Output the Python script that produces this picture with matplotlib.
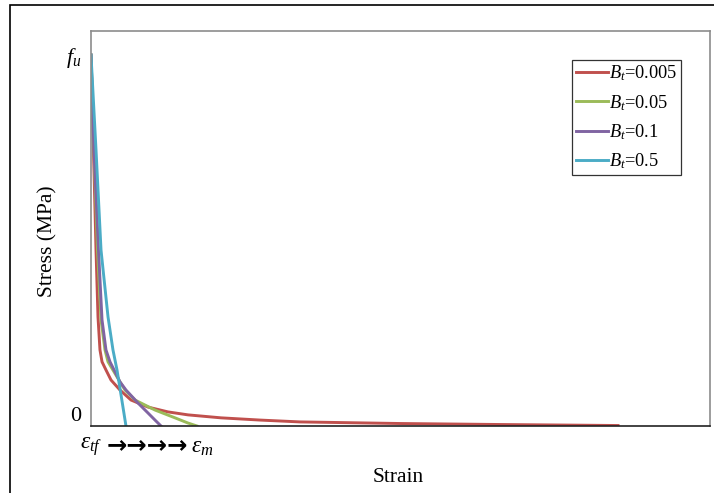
import matplotlib.pyplot as plt
from matplotlib.patches import Rectangle

plt.rcParams['font.family'] = ['Liberation Serif', 'DejaVu Serif']
plt.rcParams['mathtext.fontset'] = 'custom'
plt.rcParams['mathtext.rm'] = 'Liberation Serif'
plt.rcParams['mathtext.it'] = 'Liberation Serif:italic'

# Krzywe naprezenie-odksztalcenie (znormalizowane: strain do 1, stress / f_u)
labels = ['$B_t$=0.005', '$B_t$=0.05', '$B_t$=0.1', '$B_t$=0.5']
colors = ['#C0504D', '#9BBB59', '#8064A2', '#4BACC6']

x_red = [0, 0.0040, 0.0081, 0.0113, 0.0145, 0.0178, 0.0242, 0.0323, 0.0468, 0.0646,
         0.0921, 0.1244, 0.1567, 0.2100, 0.2730, 0.3376, 0.4992, 0.6607, 0.8514]
y_red = [1.0, 0.744, 0.474, 0.294, 0.205, 0.173, 0.151, 0.124, 0.097, 0.070,
         0.051, 0.038, 0.030, 0.022, 0.016, 0.011, 0.0067, 0.004, 0.0013]

x_green = [0, 0.0048, 0.0105, 0.0162, 0.0226, 0.0275, 0.0372, 0.0468, 0.0549, 0.0711,
           0.1034, 0.1357, 0.1567, 0.1712]
y_green = [1.0, 0.744, 0.474, 0.286, 0.205, 0.173, 0.146, 0.119, 0.097, 0.070,
           0.043, 0.022, 0.008, 0.0]

x_purple = [0, 0.0048, 0.0121, 0.0178, 0.0242, 0.0307, 0.0388, 0.0468, 0.0565, 0.0759,
            0.0921, 0.1034, 0.1131]
y_purple = [1.0, 0.744, 0.474, 0.286, 0.205, 0.173, 0.146, 0.119, 0.097, 0.062,
            0.035, 0.016, 0.0]

x_cyan = [0, 0.0081, 0.0162, 0.0275, 0.0355, 0.0420, 0.0485, 0.0565]
y_cyan = [1.0, 0.744, 0.474, 0.294, 0.205, 0.151, 0.084, 0.0]

series = [(x_red, y_red), (x_green, y_green), (x_purple, y_purple), (x_cyan, y_cyan)]

fig = plt.figure(figsize=(7.14, 4.93), dpi=100)
ax = fig.add_axes([91 / 714, 67 / 493, 619 / 714, 395 / 493])

for (xs, ys), lab, c in zip(series, labels, colors):
    ax.plot(xs, ys, color=c, lw=2.1, label=lab, solid_joinstyle='round')

ax.set_xlim(0, 1)
ax.set_ylim(0, 395 / 371)

ax.set_xticks([])
ax.set_yticks([0, 1])
ax.set_yticklabels(['0', '$f_u$'], fontsize=16)
ax.tick_params(axis='y', length=0, pad=7)
ax.get_yticklabels()[0].set_verticalalignment('bottom')

for s in ['left', 'top', 'right']:
    ax.spines[s].set_color('#8c8c8c')
    ax.spines[s].set_linewidth(1.2)
ax.spines['bottom'].set_color('#222222')
ax.spines['bottom'].set_linewidth(1.2)

ax.text(-(91 - 48) / 619, 0.5 + (426 - 241 - 197.5) / 395, 'Stress (MPa)', transform=ax.transAxes,
        fontsize=15.5, rotation=90, ha='center', va='center')
ax.text((398 - 91) / 619, -(478 - 426) / 395, 'Strain', transform=ax.transAxes,
        fontsize=15.5, ha='center', va='center')

ax.text(-11 / 619, -21 / 395, r'$\varepsilon_{tf}$', transform=ax.transAxes,
        fontsize=17, va='center', ha='left')
ax.text(16 / 619, -19 / 395, '\u2192\u2192\u2192\u2192', transform=ax.transAxes,
        fontsize=17.5, va='center', ha='left', fontweight='bold', family='DejaVu Sans')
ax.text(100 / 619, -21 / 395, r'$\varepsilon_m$', transform=ax.transAxes,
        fontsize=17, va='center', ha='left')

leg = ax.legend(loc='upper right', bbox_to_anchor=(0.953, 0.9266), fontsize=13.2,
                frameon=True, fancybox=False, handlelength=1.75, labelspacing=0.52,
                handletextpad=0.05, borderpad=0.2, borderaxespad=0)
leg.get_frame().set_edgecolor('black')
leg.get_frame().set_linewidth(0.9)

fig.patches.append(Rectangle((10 / 714, -0.1), 1.2, 0.1 + 488 / 493, transform=fig.transFigure,
                             fill=False, edgecolor='black', lw=1.2))

fig.savefig('out.png', dpi=100)
